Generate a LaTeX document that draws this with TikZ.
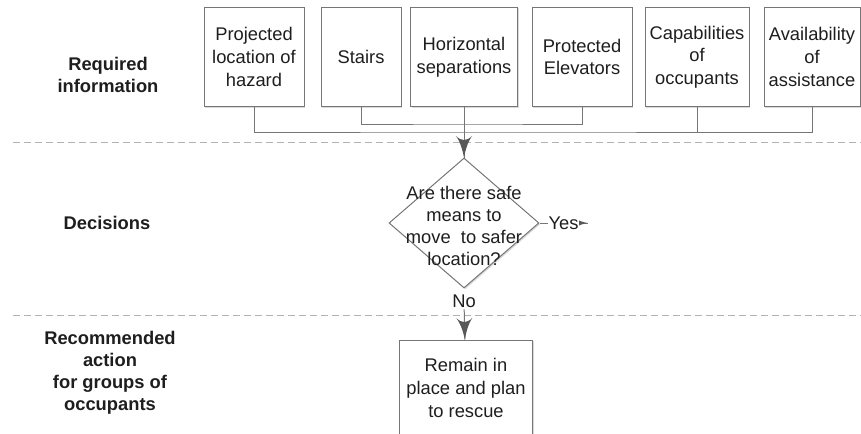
\documentclass[tikz,border=0pt]{standalone}
\usepackage{fontspec}
\setmainfont{Liberation Sans}
\usetikzlibrary{arrows}
\usetikzlibrary{decorations.markings}
\usetikzlibrary{shapes.geometric}
\usetikzlibrary{shadows}
\definecolor{lgray}{RGB}{118,118,118}
\definecolor{dgray}{RGB}{88,88,88}
\definecolor{sgray}{RGB}{178,178,178}
\definecolor{ink}{RGB}{30,30,30}
\tikzset{flow/.style = {decoration={markings,
                                    mark=at position 1 with {\arrow[scale=2.8, dgray]{latex'}}},
                        postaction={decorate}}}
\tikzset{smallflow/.style = {decoration={markings,
                                         mark=at position 1 with {\arrow[scale=1.6, dgray]{latex'}}},
                             postaction={decorate}}}
\tikzset{conn/.style = {draw=lgray, line width=0.6pt}}
\tikzset{lanesep/.style = {draw=sgray, line width=0.6pt, dash pattern=on 4pt off 2.6pt}}
\tikzset{infobox/.style = {draw=lgray, line width=0.6pt, fill=white, text=ink, align=center,
                           inner sep=0, minimum height=60pt,
                           drop shadow={shadow xshift=0.8pt, shadow yshift=-0.8pt, opacity=0.3, fill=black!50}}}
\tikzset{decision/.style = {diamond, draw=lgray, line width=0.6pt, fill=white, inner sep=0,
                            minimum width=90pt, minimum height=78pt,
                            drop shadow={shadow xshift=0.8pt, shadow yshift=-0.8pt, opacity=0.3, fill=black!50}}}
\tikzset{phase/.style = {align=center, text=ink, font=\fontsize{11}{13.3}\selectfont\bfseries}}

\begin{document}
\begin{tikzpicture}[x=0.6pt, y=-0.6pt, font=\fontsize{11}{13.6}\selectfont]
    \useasboundingbox (0, 0) rectangle (861, 434);
    \clip (0, 0) rectangle (861, 434);

    \draw [lanesep] (13, 142) -- (861, 142);
    \draw [lanesep] (13, 315) -- (861, 315);

    \node [phase] (reqinfo) at (108, 75) {Required\\information};
    \node [phase] (decis) at (107, 223) {Decisions};
    \node [phase] (recact) at (110, 373) {Recommended\\action\\ for groups of\\occupants};

    \node [infobox, minimum width=60pt] (hazard) at (254, 57) {Projected\\location of\\hazard};
    \node [infobox, minimum width=48pt] (stairs) at (361, 57) {Stairs};
    \node [infobox, minimum width=64.2pt] (horiz) at (464, 57) {Horizontal\\separations};
    \node [infobox, minimum width=60pt] (elev) at (582, 57) {Protected\\Elevators};
    \node [infobox, minimum width=62.4pt] (occup) at (697, 57) {Capabilities\\of\\occupants};
    \node [infobox, minimum width=57.6pt] (assist) at (812, 57) {Availability\\of\\assistance};

    \coordinate (jup) at (464, 124);
    \coordinate (jlow) at (464, 132);

    \draw [conn] (stairs.south) |- (jup) -| (elev.south);
    \draw [conn] (hazard.south) |- (jlow) -| (assist.south);
    \draw [conn] (occup.south) -- (occup.south |- jlow);
    \draw [conn] (horiz.south) -- (jlow);

    \node [decision] (dec) at (464, 223) {};
    \node [align=center, text=ink, font=\fontsize{11}{13.1}\selectfont] (dectext) at (464, 226) {Are there safe\\means to\\move\ \ to safer\\location?};
    \draw [conn, flow] (jlow) -- (dec.north);

    \draw [conn, smallflow] (dec.east) -- ++(48, 0) node [midway, fill=white, inner sep=0.6pt, text=ink] (yes) {Yes};

    \node [text=ink, inner sep=1pt] (no) at (464, 301) {No};
    \node [infobox, minimum width=79.8pt, minimum height=57.6pt] (rescue) at (466, 388) {Remain in\\place and plan\\to rescue};
    \draw [conn, flow] (no) -- (rescue);
\end{tikzpicture}
\end{document}
